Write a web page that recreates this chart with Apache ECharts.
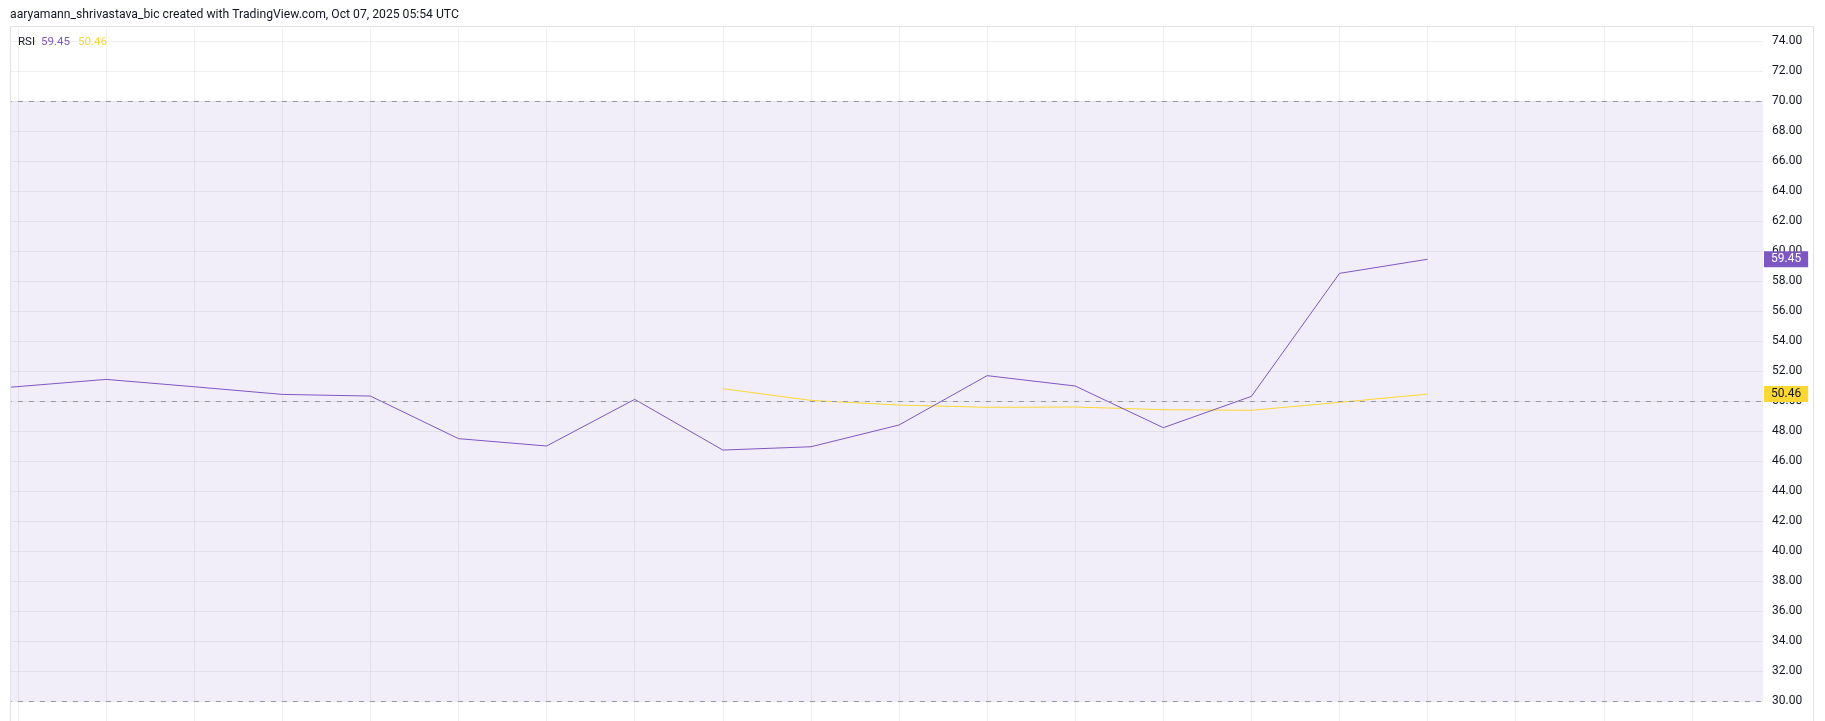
<!DOCTYPE html>
<html><head><meta charset="utf-8">
<script src="https://cdn.jsdelivr.net/npm/echarts@6/dist/echarts.min.js"></script>
<style>html,body{margin:0;padding:0;background:#fff}#c{width:1825px;height:721px}</style>
</head><body><div id="c"></div>
<script>
// ---- data ----
const barIndex  = [-1, 0, 1, 2, 3, 4, 5, 6, 7, 8, 9, 10, 11, 12, 13, 14, 15, 16];
const rsiValues = [50.5, 50.96, 51.44, 50.95, 50.44, 50.33, 47.49, 47.00, 50.11, 46.73, 46.95, 48.40, 51.69, 51.00, 48.22, 50.31, 58.51, 59.45];
const maValues  = [null, null, null, null, null, null, null, null, null, 50.82, 50.04, 49.73, 49.58, 49.60, 49.42, 49.38, 49.91, 50.46];
const levels    = [70, 50, 30];
const bandRange = [30, 70];
const titleText = 'aaryamann_shrivastava_bic created with TradingView.com, Oct 07, 2025 05:54 UTC';
const indicatorName = 'RSI';

const FONT = 'Roboto, "Noto Sans", sans-serif';
const PURPLE = '#7e57c2';
const YELLOW = '#fdd835';
const GRID = 'rgba(42,46,57,0.07)';

const rsiData = barIndex.map((b, i) => [b, rsiValues[i]]);
const maData = barIndex.map((b, i) => maValues[i] == null ? null : [b, maValues[i]]).filter(Boolean);
const rsiLast = rsiValues[rsiValues.length - 1];
const maLast = maValues[maValues.length - 1];

const chart = echarts.init(document.getElementById('c'), null, { renderer: 'canvas' });
chart.setOption({
  animation: false,
  backgroundColor: '#ffffff',
  grid: { left: -70.1, right: 62, top: 11, bottom: -10, containLabel: false, outerBoundsMode: 'none' },
  xAxis: {
    type: 'value', min: -1, max: 19.807, interval: 1,
    axisLine: { show: false }, axisTick: { show: false }, axisLabel: { show: false },
    splitLine: { show: true, showMaxLine: false, lineStyle: { color: GRID, width: 1 } }
  },
  yAxis: {
    type: 'value', position: 'right', min: 28, max: 76, interval: 2,
    axisLine: { show: false }, axisTick: { show: false },
    axisLabel: { margin: 9, color: '#131722', fontSize: 12, fontFamily: FONT, formatter: v => v.toFixed(2) },
    splitLine: { show: true, lineStyle: { color: GRID, width: 1 } }
  },
  series: [
    {
      name: 'RSI', type: 'line', data: rsiData, symbol: 'none', clip: false,
      lineStyle: { color: PURPLE, width: 1 }, itemStyle: { color: PURPLE },
      z: 3,
      markArea: {
        silent: true,
        itemStyle: { color: 'rgba(126,87,194,0.1)' },
        data: [[{ yAxis: bandRange[0] }, { yAxis: bandRange[1] }]]
      },
      markLine: {
        silent: true, symbol: 'none', animation: false,
        data: levels.map(l => ({ yAxis: l, lineStyle: { color: '#9598a1', type: [5, 6], width: 1 }, label: { show: false } }))
      }
    },
    {
      name: 'MA', type: 'line', data: maData, symbol: 'none', clip: false,
      lineStyle: { color: YELLOW, width: 1 }, itemStyle: { color: YELLOW },
      z: 2
    }
  ]
});

const gridRight = 1825 - 62;
function tag(id, value, bg, fg) {
  const y = chart.convertToPixel({ yAxisIndex: 0 }, value);
  return {
    type: 'text', id: id, z: 110, x: gridRight + 1, y: y,
    style: {
      text: value.toFixed(2), fontSize: 12, fontFamily: FONT, fill: fg,
      backgroundColor: bg, padding: [2, 7, 2, 7], lineHeight: 12,
      verticalAlign: 'middle', align: 'left'
    }
  };
}

chart.setOption({
  graphic: [
    { type: 'rect', id: 'hdr', z: 100, shape: { x: 0, y: 0, width: 1825, height: 26 }, style: { fill: '#ffffff' } },
    { type: 'rect', id: 'lft', z: 100, shape: { x: 0, y: 0, width: 10, height: 721 }, style: { fill: '#ffffff' } },
    { type: 'rect', id: 'frm', z: 101, shape: { x: 10.5, y: 26.5, width: 1803, height: 720 }, style: { fill: null, stroke: '#e0e3eb', lineWidth: 1 } },
    { type: 'text', id: 'ttl', z: 102, x: 10, y: 15, style: { text: titleText, fontSize: 12.2, fontFamily: FONT, fill: '#131722', verticalAlign: 'middle' } },
    { type: 'text', id: 'lg0', z: 102, x: 18, y: 42, style: { text: indicatorName, fontSize: 11.5, fontFamily: FONT, fill: '#131722', verticalAlign: 'middle' } },
    { type: 'text', id: 'lg1', z: 102, x: 41, y: 42, style: { text: rsiLast.toFixed(2), fontSize: 11.5, fontFamily: FONT, fill: PURPLE, verticalAlign: 'middle' } },
    { type: 'text', id: 'lg2', z: 102, x: 78, y: 42, style: { text: maLast.toFixed(2), fontSize: 11.5, fontFamily: FONT, fill: YELLOW, verticalAlign: 'middle' } },
    tag('tagRsi', rsiLast, PURPLE, '#ffffff'),
    tag('tagMa', maLast, YELLOW, '#131722')
  ]
});
</script>
</body></html>
